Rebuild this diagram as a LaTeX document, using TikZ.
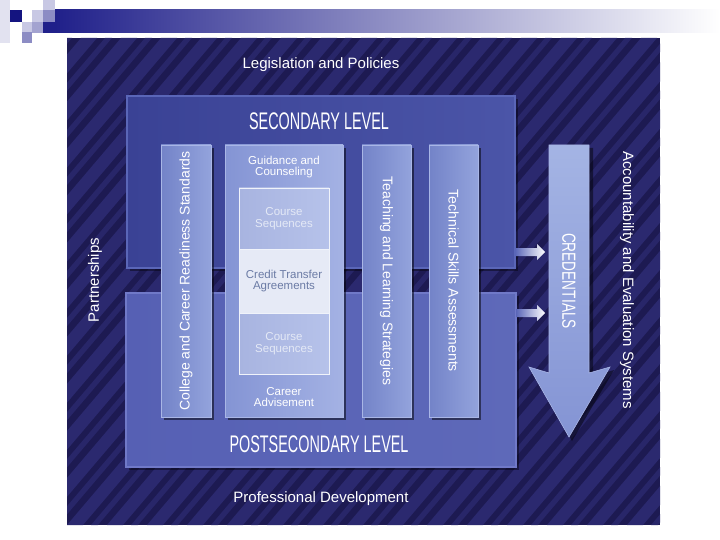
\documentclass[tikz,border=0pt]{standalone}
\usepackage{fontspec}
\setmainfont{Liberation Sans}
\newfontfamily\condfont[FakeStretch=0.6]{Liberation Sans}
\newfontfamily\credfont[FakeStretch=0.72]{Liberation Sans}
\usetikzlibrary{shadows,calc}
\definecolor{bgnavy}{HTML}{1D1A52}
\definecolor{stripecol}{HTML}{2B296F}
\definecolor{secL}{HTML}{3A4295}
\definecolor{secR}{HTML}{4B55A8}
\definecolor{secB}{HTML}{5A66B8}
\definecolor{postL}{HTML}{5660B4}
\definecolor{postR}{HTML}{5E69B9}
\definecolor{postB}{HTML}{7079C8}
\definecolor{colL}{HTML}{7383C8}
\definecolor{colR}{HTML}{93A3DC}
\definecolor{colB}{HTML}{A9B6E6}
\definecolor{guiL}{HTML}{8494D4}
\definecolor{guiR}{HTML}{A4B2E4}
\definecolor{cellA}{HTML}{A8B4E0}
\definecolor{cellAR}{HTML}{B6C2EA}
\definecolor{cellB}{HTML}{E6EAF6}
\definecolor{cellBorder}{HTML}{F0F3FA}
\definecolor{credtop}{HTML}{A4B4E4}
\definecolor{credbot}{HTML}{8494D4}
\definecolor{credtxt}{HTML}{6B7BA5}
\definecolor{seqtxt}{HTML}{E4E9F6}
\definecolor{barnavy}{HTML}{20208A}
\definecolor{barmid}{HTML}{A0A2C4}
\definecolor{sqdark}{HTML}{141480}
\definecolor{sqlight}{HTML}{C8C8E4}
\definecolor{sqmed}{HTML}{8C8CC4}
\definecolor{sqfaint}{HTML}{E2E2F0}
\begin{document}
\begin{tikzpicture}[x=1pt,y=-1pt,
  panelbox/.style={fill=bgnavy, inner sep=0pt, outer sep=0pt},
  levelbox/.style={inner sep=0pt, outer sep=0pt, line width=1.6pt,
     drop shadow={shadow xshift=3pt, shadow yshift=-3pt, opacity=0.4, fill=black}},
  colbox/.style={draw=colB, line width=0.8pt, left color=colL, right color=colR,
     inner sep=0pt, outer sep=0pt, minimum height=272pt,
     drop shadow={shadow xshift=3pt, shadow yshift=-3pt, opacity=0.5, fill=black}},
  cellbox/.style={draw=cellBorder, line width=0.8pt, inner sep=0pt, outer sep=0pt,
     minimum width=90pt},
  maintxt/.style={text=white, inner sep=0pt, font=\fontsize{15}{17}\selectfont},
  coltxt/.style={text=white, inner sep=0pt, font=\fontsize{14}{16}\selectfont},
  smalltxt/.style={inner sep=0pt, align=center, font=\fontsize{11.5}{11.5}\selectfont},
  leveltxt/.style={text=white, inner sep=0pt, font=\condfont\fontsize{24}{26}\selectfont}
]
\useasboundingbox (0,0) rectangle (720,540);
\fill[white] (0,0) rectangle (720,540);
% slide decoration
\fill[sqfaint] (0,0) rectangle (10,43);
\shade[left color=barnavy, middle color=barmid, right color=white] (55,10) rectangle (720,33);
\fill[barnavy] (43,22) rectangle (55,33);
\fill[sqdark] (10,10) rectangle (22,22);
\fill[sqlight] (22,22) rectangle (32,32);
\fill[sqmed] (22,32) rectangle (32,43);
\fill[sqlight] (32,10) rectangle (43,22);
\fill[sqmed!80] (32,22) rectangle (43,33);
\fill[sqlight] (43,0) rectangle (55,10);
\fill[sqmed] (43,10) rectangle (55,22);
% panel
\node[panelbox, anchor=north west, minimum width=593pt, minimum height=487pt] (panel) at (67,38) {};
\begin{scope}
\clip (67,38) rectangle (660,525);
\foreach \i in {-12,...,16} {
  \fill[stripecol] ({67+\i*40},525) -- ++(16,0) -- ++(414,-487) -- ++(-16,0) -- cycle;
  \fill[stripecol!80!bgnavy] ({67+\i*40+24},525) -- ++(7,0) -- ++(414,-487) -- ++(-7,0) -- cycle;
}
\end{scope}
% levels
\node[levelbox, draw=secB, left color=secL, right color=secR, anchor=north west,
  minimum width=388pt, minimum height=172pt] (sec) at (127,96) {};
\node[levelbox, draw=postB, left color=postL, right color=postR, anchor=north west,
  minimum width=390pt, minimum height=174pt] (post) at (126,293) {};
% columns
\node[colbox, anchor=north west, minimum width=50pt] (college) at (161,145) {};
\node[colbox, left color=guiL, right color=guiR, anchor=north west, minimum width=118pt] (guid) at (225,145) {};
\node[colbox, anchor=north west, minimum width=49pt] (teach) at (362,145) {};
\node[colbox, anchor=north west, minimum width=49pt] (tech) at (429,145) {};
% inner cells
\node[cellbox, left color=cellA, right color=cellAR, anchor=north west, minimum height=61pt] (seq1) at (239,188) {};
\node[cellbox, fill=cellB, anchor=north west, minimum height=64pt] (credit) at (239,249) {};
\node[cellbox, left color=cellA, right color=cellAR, anchor=north west, minimum height=61pt] (seq2) at (239,313) {};
% small arrows
\coordinate (a1e) at (545,252);
\coordinate (a1s) at (sec.east |- a1e);
\coordinate (a2e) at (545,313);
\coordinate (a2s) at (post.east |- a2e);
\foreach \s/\e in {a1s/a1e, a2s/a2e} {
  \shade[left color=secB, right color=white]
    ($(\s)+(0,-4)$) -- ($(\e)+(-8,-4)$) -- ($(\e)+(-8,-8)$) -- (\e)
    -- ($(\e)+(-8,8)$) -- ($(\e)+(-8,4)$) -- ($(\s)+(0,4)$) -- cycle;
}
% credentials arrow
\fill[black, opacity=0.45] (552,148) -- (593,148) -- (593,376) -- (614,370) -- (572,441) -- (532,370) -- (552,376) -- cycle;
\shade[top color=credtop, bottom color=credbot, draw=colB, line width=0.6pt]
  (549,145) -- (589,145) -- (589,373) -- (610,367) -- (569,437) -- (529,367) -- (549,373) -- cycle;
% texts
\node[maintxt] (legis) at (321,65) {Legislation and Policies};
\node[maintxt] (profdev) at (321,499) {Professional Development};
\node[maintxt, rotate=90] (partner) at (95,280) {Partnerships};
\node[maintxt, rotate=-90] (account) at (627,280) {Accountability and Evaluation Systems};
\node[leveltxt] (sectitle) at (319,121) {SECONDARY LEVEL};
\node[leveltxt] (posttitle) at (319,444) {POSTSECONDARY LEVEL};
\node[coltxt, rotate=90] (collegetxt) at (college.center) {College and Career Readiness Standards};
\node[coltxt, rotate=-90] (teachtxt) at (teach.center) {Teaching and Learning Strategies};
\node[coltxt, rotate=-90] (techtxt) at (tech.center) {Technical Skills Assessments};
\node[text=white, inner sep=0pt, rotate=-90, font=\credfont\fontsize{19}{21}\selectfont] (credtxt) at (569,281) {CREDENTIALS};
\node[smalltxt, text=white] (guidtxt) at (284,167) {Guidance and\\Counseling};
\node[smalltxt, text=seqtxt] (seq1txt) at (seq1.center) {Course\\Sequences};
\node[smalltxt, text=credtxt] (credittxt) at (credit.center) {Credit Transfer\\Agreements};
\node[smalltxt, text=seqtxt] (seq2txt) at (seq2.center) {Course\\Sequences};
\node[smalltxt, text=white] (careertxt) at (284,397) {Career\\Advisement};
\end{tikzpicture}
\end{document}
